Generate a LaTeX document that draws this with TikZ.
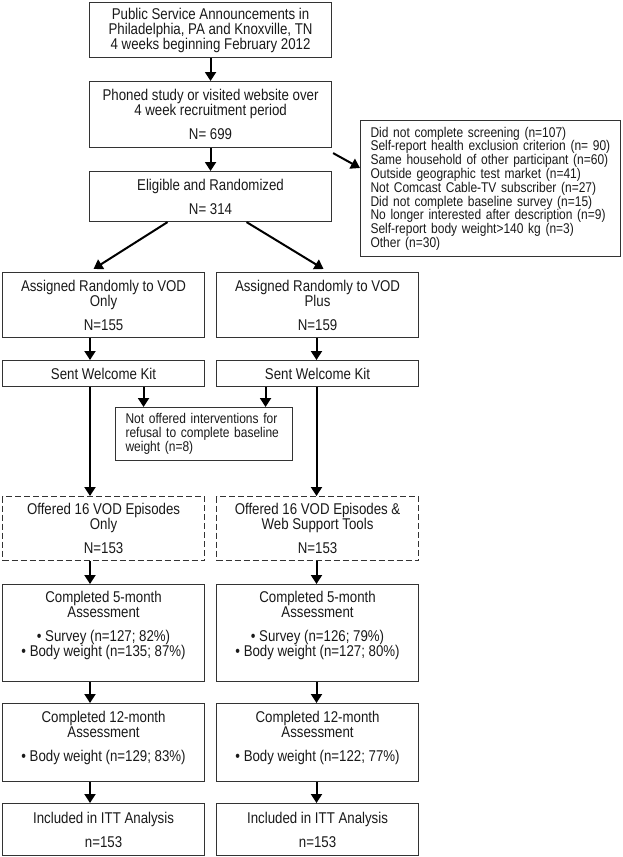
\documentclass[tikz,border=0pt]{standalone}
\usepackage{fontspec}
\setmainfont[FakeStretch=0.85]{Liberation Sans}
\usetikzlibrary{arrows.meta,calc,positioning}

\begin{document}
\begin{tikzpicture}[x=1pt,y=-1pt,
    box/.style={draw=black!80,line width=1.1pt,anchor=north west,align=center,
        inner sep=0pt,text=black!90,font=\fontsize{15.6}{15}\selectfont},
    colbox/.style={box,minimum width=202pt},
    note/.style={box,align=left,inner xsep=10pt,font=\fontsize{14.1}{13.8}\selectfont},
    flow/.style={-{Triangle[width=11pt,length=9pt]},line width=2pt}]
    \useasboundingbox (0,0) rectangle (623,857);

    % top of the flow
    \node[box,minimum width=242pt,minimum height=55pt] (pubs) at (89,2)
        {Public Service Announcements in\\Philadelphia, PA and Knoxville, TN\\4 weeks beginning February 2012};
    \node[box,minimum width=242pt,minimum height=66pt] (phone) at (89,81)
        {Phoned study or visited website over\\4 week recruitment period\\[9pt]N= 699};
    \node[box,minimum width=242pt,minimum height=50pt] (elig) at (89,171)
        {Eligible and Randomized\\[9pt]N= 314};
    \node[note,text width=240pt,minimum height=136pt] (excl) at (360,120)
        {Did not complete screening (n=107)\\
         Self-report health exclusion criterion (n= 90)\\
         Same household of other participant (n=60)\\
         Outside geographic test market (n=41)\\
         Not Comcast Cable-TV subscriber (n=27)\\
         Did not complete baseline survey (n=15)\\
         No longer interested after description (n=9)\\
         Self-report body weight>140 kg (n=3)\\
         Other (n=30)};

    % two arms
    \node[colbox,minimum height=65pt] (assL) at (2,272)
        {Assigned Randomly to VOD\\Only\\[9pt]N=155};
    \node[colbox,minimum height=65pt] (assR) at (216,272)
        {Assigned Randomly to VOD\\Plus\\[9pt]N=159};
    \node[colbox,minimum height=26pt] (kitL) at (2,360) {Sent Welcome Kit};
    \node[colbox,minimum height=26pt] (kitR) at (216,360) {Sent Welcome Kit};
    \node[note,text width=157pt,minimum height=53pt] (nooff) at (115,407)
        {Not offered interventions for\\refusal to complete baseline\\weight (n=8)};
    \node[colbox,dash pattern=on 6pt off 3pt,minimum height=64pt] (offL) at (2,496)
        {Offered 16 VOD Episodes\\Only\\[9pt]N=153};
    \node[colbox,dash pattern=on 6pt off 3pt,minimum height=64pt] (offR) at (216,496)
        {Offered 16 VOD Episodes \&\\Web Support Tools\\[9pt]N=153};
    \node[colbox,minimum height=97pt,text depth=19pt] (fiveL) at (2,584)
        {Completed 5-month\\Assessment\\[9pt]\textbullet\ Survey (n=127; 82\%)\\\textbullet\ Body weight (n=135; 87\%)};
    \node[colbox,minimum height=97pt,text depth=19pt] (fiveR) at (216,584)
        {Completed 5-month\\Assessment\\[9pt]\textbullet\ Survey (n=126; 79\%)\\\textbullet\ Body weight (n=127; 80\%)};
    \node[colbox,minimum height=78pt,text depth=13pt] (twelveL) at (2,703)
        {Completed 12-month\\Assessment\\[9pt]\textbullet\ Body weight (n=129; 83\%)};
    \node[colbox,minimum height=78pt,text depth=13pt] (twelveR) at (216,703)
        {Completed 12-month\\Assessment\\[9pt]\textbullet\ Body weight (n=122; 77\%)};
    \node[colbox,minimum height=52pt] (ittL) at (2,803)
        {Included in ITT Analysis\\[9pt]n=153};
    \node[colbox,minimum height=52pt] (ittR) at (216,803)
        {Included in ITT Analysis\\[9pt]n=153};

    % connectors
    \coordinate (lx) at (90,0);
    \coordinate (rx) at (316.5,0);
    \draw[flow] (pubs) -- (phone);
    \draw[flow] (phone) -- (elig);
    \draw[flow] ($(phone.south east)+(1,5)$) -- ($(excl.north west)+(0,48)$);
    \draw[flow] ($(elig.south)+(-43,0)$) -- ($(assL.north)+(-10,-3)$);
    \draw[flow] ($(elig.south)+(36,0)$) -- ($(assR.north)+(6,-3)$);
    \foreach \a/\b in {assL/kitL,kitL/offL,offL/fiveL,fiveL/twelveL,twelveL/ittL}
        \draw[flow] (\a.south -| lx) -- (\b.north -| lx);
    \foreach \a/\b in {assR/kitR,kitR/offR,offR/fiveR,fiveR/twelveR,twelveR/ittR}
        \draw[flow] (\a.south -| rx) -- (\b.north -| rx);
    \coordinate (nl) at ($(kitL.south)+(40,0)$);
    \coordinate (nr) at ($(kitR.south)+(-52,0)$);
    \draw[flow] (nl) -- (nl |- nooff.north);
    \draw[flow] (nr) -- (nr |- nooff.north);
\end{tikzpicture}
\end{document}
